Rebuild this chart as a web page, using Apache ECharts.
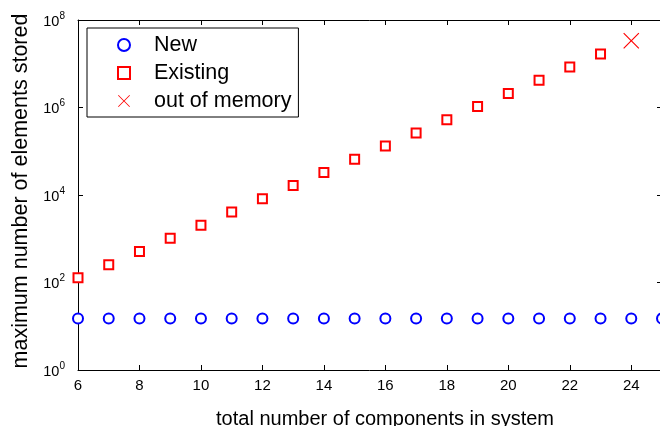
<!DOCTYPE html>
<html><head><meta charset="utf-8">
<script src="https://cdn.jsdelivr.net/npm/echarts@6/dist/echarts.min.js"></script>
<style>html,body{margin:0;padding:0;background:#fff}#c{width:660px;height:426px}</style>
</head><body><div id="c"></div>
<script>
const xNew = [6,7,8,9,10,11,12,13,14,15,16,17,18,19,20,21,22,23,24,25];
const newValues = [15,15,15,15,15,15,15,15,15,15,15,15,15,15,15,15,15,15,15,15];
const xExisting = [6,7,8,9,10,11,12,13,14,15,16,17,18,19,20,21,22,23];
const existingValues = [128,256,512,1024,2048,4096,8192,16384,32768,65536,131072,262144,524288,1048576,2097152,4194304,8388608,16777216];
const xOOM = [24];
const oomValues = [33554432];
const seriesNames = ['New','Existing','out of memory'];
const xTitle = 'total number of components in system';
const yTitle = 'maximum number of elements stored';

const FONT = '"Liberation Sans", Arial, sans-serif';
const CROSS = 'path://M0,5L5,0L50,45L95,0L100,5L55,50L100,95L95,100L50,55L5,100L0,95L45,50Z';
const pairs = (xs, ys) => xs.map((x, i) => [x, ys[i]]);

const chart = echarts.init(document.getElementById('c'), null, {renderer: 'canvas'});
const axisLine = {show: true, lineStyle: {color: '#000', width: 1}};
const axisTick = {show: true, inside: true, length: 5, lineStyle: {color: '#000', width: 1}};

chart.setOption({
  animation: false,
  backgroundColor: '#fff',
  grid: {left: 78, top: 20, width: 584, height: 350, containLabel: false, outerBoundsMode: 'none'},
  legend: {
    orient: 'vertical', left: 87, top: 28, padding: [6, 7, 5, 30], itemGap: 6,
    itemWidth: 12, itemHeight: 12,
    borderColor: '#000', borderWidth: 1, backgroundColor: '#fff',
    textStyle: {fontSize: 21.5, color: '#000', fontFamily: FONT, padding: [0, 0, 0, 19]},
    data: [
      {name: seriesNames[0]},
      {name: seriesNames[1]},
      {name: seriesNames[2], icon: CROSS, itemStyle: {color: '#ff0000', borderWidth: 0}}
    ]
  },
  xAxis: [{
    type: 'value', min: 6, max: 25, interval: 2,
    axisLine, axisTick, splitLine: {show: false},
    axisLabel: {color: '#000', fontSize: 15, margin: 8, fontFamily: FONT, showMaxLabel: false},
    name: xTitle, nameLocation: 'middle', nameGap: 39,
    nameTextStyle: {fontSize: 20, color: '#000', fontFamily: FONT, padding: [0, 0, 0, 30]}
  }, {
    type: 'value', position: 'top', min: 6, max: 25, interval: 2,
    axisLine, axisTick, splitLine: {show: false}, axisLabel: {show: false}
  }],
  yAxis: [{
    type: 'log', logBase: 10, min: 1, max: 1e8, interval: 2,
    axisLine, axisTick, splitLine: {show: false}, minorTick: {show: false},
    axisLabel: {
      color: '#000', margin: 13, fontFamily: FONT,
      formatter: v => '{b|10}{s|' + Math.round(Math.log10(v)) + '}',
      rich: {
        b: {fontSize: 14.5, fontFamily: FONT, color: '#000', lineHeight: 18, verticalAlign: 'bottom'},
        s: {fontSize: 10, fontFamily: FONT, color: '#000', lineHeight: 18, verticalAlign: 'top', padding: [0, 0, 6, 0]}
      }
    },
    name: yTitle, nameLocation: 'middle', nameGap: 38,
    nameTextStyle: {fontSize: 21.5, color: '#000', fontFamily: FONT, padding: [0, 0, 0, 8]}
  }, {
    type: 'log', logBase: 10, min: 1, max: 1e8, interval: 2, position: 'right',
    axisLine, axisTick, splitLine: {show: false}, axisLabel: {show: false}
  }],
  series: [{
    name: seriesNames[0], type: 'scatter', clip: false,
    symbol: 'emptyCircle', symbolSize: 10,
    itemStyle: {color: '#0000ff', borderWidth: 1, opacity: 1},
    data: pairs(xNew, newValues)
  }, {
    name: seriesNames[1], type: 'scatter', clip: false,
    symbol: 'emptyRect', symbolSize: 9,
    itemStyle: {color: '#ff0000', borderWidth: 1, opacity: 1},
    data: pairs(xExisting, existingValues)
  }, {
    name: seriesNames[2], type: 'scatter', clip: false,
    symbol: CROSS, symbolSize: 16,
    itemStyle: {color: '#ff0000', borderWidth: 0, opacity: 1},
    data: pairs(xOOM, oomValues)
  }]
});
</script></body></html>
